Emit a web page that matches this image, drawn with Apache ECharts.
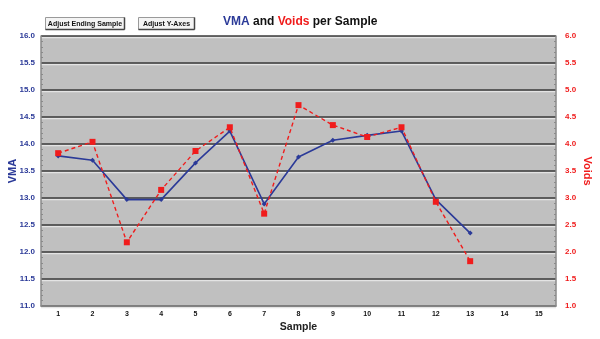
<!DOCTYPE html>
<html><head><meta charset="utf-8">
<script src="https://cdn.jsdelivr.net/npm/echarts@6/dist/echarts.min.js"></script>
<style>html,body{margin:0;padding:0;background:#fff}#c{width:600px;height:339px}</style>
</head><body><div id="c"></div>
<script>
const samples = ['1','2','3','4','5','6','7','8','9','10','11','12','13','14','15'];
const vma = [13.78, 13.70, 12.97, 12.97, 13.65, 14.24, 12.89, 13.76, 14.07, 14.16, 14.24, 12.97, 12.35, null, null];
const voids = [3.83, 4.04, 2.18, 3.15, 3.87, 4.31, 2.71, 4.72, 4.35, 4.13, 4.31, 2.93, 1.83, null, null];
const blue = '#2b3a98', red = '#f01c1c';
const chart = echarts.init(document.getElementById('c'));
const F = '"Liberation Sans", Arial, sans-serif';
function btn(x, w, label) {
  return {type:'group', left:x, top:15, children:[
    {type:'rect', shape:{x:0,y:0,width:w,height:12}, style:{fill:'#f4f4f4', stroke:'#9a9a9a', lineWidth:1}},
    {type:'line', shape:{x1:w,y1:0,x2:w,y2:12}, style:{stroke:'#444', lineWidth:1.5}},
    {type:'line', shape:{x1:0,y1:12,x2:w,y2:12}, style:{stroke:'#444', lineWidth:1.5}},
    {type:'text', style:{x:w/2, y:6.5, text:label, textAlign:'center', textVerticalAlign:'middle', font:'bold 7px ' + F, fill:'#111'}}
  ]};
}
chart.setOption({
  animation:false,
  backgroundColor:'#fff',
  title:{
    text:'{b|VMA} and {r|Voids} per Sample',
    left:218, top:11,
    textStyle:{fontFamily:F, fontSize:12, fontWeight:'bold', color:'#111',
      rich:{b:{color:blue, fontSize:12, fontWeight:'bold', fontFamily:F}, r:{color:red, fontSize:12, fontWeight:'bold', fontFamily:F}}}
  },
  graphic:[btn(43, 79, 'Adjust Ending Sample'), btn(136, 56, 'Adjust Y-Axes')],
  grid:{left:41, right:44, top:36, bottom:33, outerBoundsMode:'none', containLabel:false, show:true, backgroundColor:'#c0c0c0', borderWidth:0},
  xAxis:{
    type:'category', data:samples, boundaryGap:true,
    name:'Sample', nameLocation:'middle', nameGap:16, nameMoveOverlap:false,
    nameTextStyle:{fontFamily:F, fontSize:10.5, fontWeight:'bold', color:'#222'},
    axisLine:{lineStyle:{color:'#8a8a8a', width:1.5}},
    axisTick:{show:false},
    axisLabel:{fontFamily:F, fontSize:7, fontWeight:'bold', color:'#111', margin:5},
    splitLine:{show:false}
  },
  yAxis:[
    {type:'value', min:11, max:16, interval:0.5, position:'left',
     name:'VMA', nameLocation:'middle', nameGap:23, nameRotate:90, nameMoveOverlap:false,
     nameTextStyle:{fontFamily:F, fontSize:11, fontWeight:'bold', color:blue},
     axisLine:{show:true, lineStyle:{color:'#8a8a8a', width:1.5}},
     axisTick:{show:false, inside:true},
     minorTick:{show:true, splitNumber:5, length:2, lineStyle:{color:'#8a8a8a'}},
     axisLabel:{fontFamily:F, fontSize:8, fontWeight:'bold', color:blue, margin:6, formatter:v=>v.toFixed(1)},
     splitLine:{show:true, lineStyle:{color:'#3a3a3a', width:1.6, shadowColor:'#e4e4e4', shadowOffsetY:1.5, shadowBlur:0}}
    },
    {type:'value', min:1, max:6, interval:0.5, position:'right',
     name:'Voids', nameLocation:'middle', nameGap:26, nameRotate:-90, nameMoveOverlap:false,
     nameTextStyle:{fontFamily:F, fontSize:11, fontWeight:'bold', color:red},
     axisLine:{show:true, lineStyle:{color:'#8a8a8a', width:1.5}},
     axisTick:{show:false, inside:true},
     minorTick:{show:true, splitNumber:5, length:2, lineStyle:{color:'#8a8a8a'}},
     axisLabel:{fontFamily:F, fontSize:8, fontWeight:'bold', color:red, margin:9, formatter:v=>v.toFixed(1)},
     splitLine:{show:false}
    }
  ],
  series:[
    {name:'VMA', type:'line', yAxisIndex:0, data:vma, symbol:'diamond', symbolSize:5,
     lineStyle:{color:blue, width:1.6}, itemStyle:{color:blue}, z:3},
    {name:'Voids', type:'line', yAxisIndex:1, data:voids, symbol:'rect', symbolSize:6,
     lineStyle:{color:red, width:1.4, type:[4,3]}, itemStyle:{color:red}, z:4}
  ]
});
</script></body></html>
